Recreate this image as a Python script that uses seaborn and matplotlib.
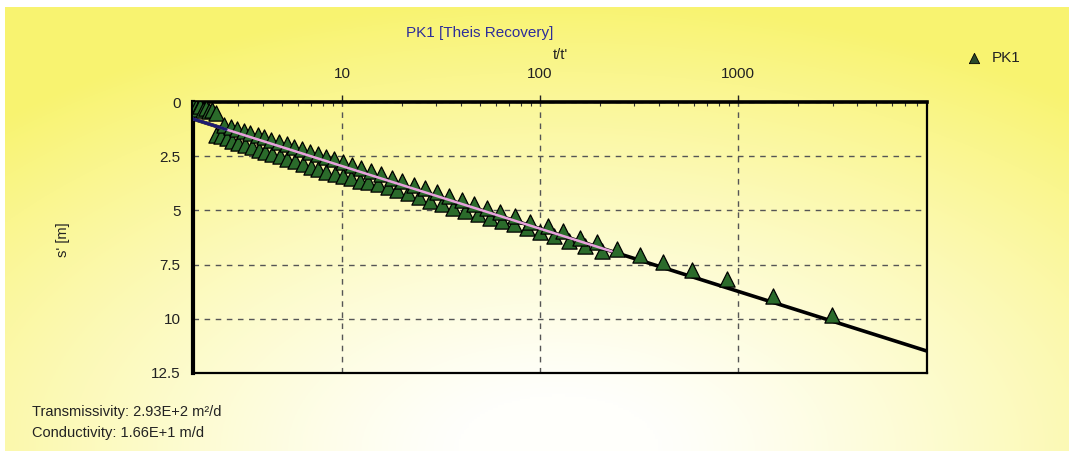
import numpy as np
import pandas as pd
import matplotlib
matplotlib.use("Agg")
import matplotlib.pyplot as plt
from matplotlib.ticker import FixedLocator, NullFormatter, MultipleLocator
import seaborn as sns

# Recovery observations for well PK1 (t/t' and residual drawdown s' in m)
t_ratio_lower = [2.30, 2.45, 2.62, 2.80, 3.00, 3.25, 3.50, 3.80, 4.10, 4.45,
                 4.85, 5.30, 5.80, 6.35, 6.95, 7.60, 8.35, 9.20, 10.1, 11.1,
                 12.3, 13.6, 15.2, 17.0, 19.0, 21.5, 24.5, 28.0, 32.0, 36.5,
                 42.0, 48.5, 56.0, 64.0, 74.0, 86.0, 100.0, 118.0, 140.0, 168.0,
                 205.0]
s_lower = [1.50, 1.56, 1.66, 1.78, 1.87, 1.98, 2.09, 2.20, 2.31, 2.42,
           2.51, 2.64, 2.73, 2.86, 2.99, 3.10, 3.21, 3.32, 3.42, 3.52,
           3.63, 3.69, 3.80, 3.93, 4.06, 4.21, 4.39, 4.57, 4.72, 4.88,
           5.02, 5.18, 5.33, 5.47, 5.64, 5.80, 5.98, 6.20, 6.42, 6.62,
           6.85]

t_ratio_upper = [1.80, 1.84, 1.88, 1.93, 1.98, 2.05, 2.12, 2.20, 2.30,
                 2.55, 2.75, 2.95, 3.20, 3.45, 3.75, 4.05, 4.40, 4.80, 5.25,
                 5.75, 6.30, 6.90, 7.55, 8.30, 9.15, 10.1, 11.2, 12.5, 14.0,
                 15.8, 17.8, 20.2, 23.0, 26.3, 30.2, 34.8, 40.2, 46.6, 54.0,
                 63.0, 74.5, 89.0, 110.0, 131.0, 159.0, 194.0, 245.0, 320.0,
                 418.0, 586.0, 879.0, 1503.0, 2985.0]
s_upper = [0.12, 0.22, 0.30, 0.18, 0.35, 0.28, 0.42, 0.38, 0.50,
           1.05, 1.15, 1.24, 1.33, 1.43, 1.54, 1.63, 1.74, 1.85, 1.96,
           2.07, 2.18, 2.30, 2.41, 2.53, 2.65, 2.78, 2.91, 3.05, 3.19,
           3.34, 3.49, 3.65, 3.81, 3.98, 4.15, 4.33, 4.51, 4.69, 4.87,
           5.06, 5.27, 5.54, 5.74, 5.97, 6.28, 6.48, 6.76, 7.08,
           7.40, 7.77, 8.18, 8.96, 9.83]

# Straight-line (Cooper-Jacob) fit: s' = a + b*log10(t/t')
fit_intercept = 0.065
fit_slope = 2.889
fit_range = [1.77, 9000.0]
early_range = [1.77, 2.6]
pink_range = [1.77, 230.0]

x_ticks = [10, 100, 1000]
y_ticks = [0, 2.5, 5, 7.5, 10, 12.5]
y_tick_labels = ["0", "2.5", "5", "7.5", "10", "12.5"]

obs = pd.DataFrame({
    "t_ratio": t_ratio_lower + t_ratio_upper,
    "s": s_lower + s_upper,
})


def fit_frame(xr, n=50):
    xs = np.logspace(np.log10(xr[0]), np.log10(xr[1]), n)
    return pd.DataFrame({"t_ratio": xs, "s": fit_intercept + fit_slope * np.log10(xs)})


sns.set_style("white")
plt.rcParams["font.family"] = ["Liberation Sans", "DejaVu Sans"]

W, H = 1069, 451
fig = plt.figure(figsize=(W / 100, H / 100), dpi=100)
fig.patch.set_facecolor("white")

# Yellow background fading to white towards the lower middle
bg = fig.add_axes([5 / W, 0, 1 - 5 / W, 1 - 7 / H])
bg.set_axis_off()
gx, gy = np.meshgrid(np.linspace(0, 1, 400), np.linspace(0, 1, 200))
r = np.sqrt(((gx - 0.52) / 0.8) ** 2 + ((gy - 0.0) / 1.05) ** 2)
w = np.clip((r - 0.12) / 0.85, 0, 1) ** 1.2
yellow = np.array([0.975, 0.955, 0.44])
white = np.array([1.0, 1.0, 0.985])
img = white[None, None, :] * (1 - w[..., None]) + yellow[None, None, :] * w[..., None]
bg.imshow(img, aspect="auto", origin="lower", extent=[0, 1, 0, 1])
bg.set_xlim(0, 1)
bg.set_ylim(0, 1)

ax = fig.add_axes([193 / W, 1 - 373 / H, (927 - 193) / W, (373 - 102) / H])
ax.patch.set_alpha(0)

sns.lineplot(data=fit_frame(fit_range), x="t_ratio", y="s", ax=ax,
             color="black", lw=2.6, zorder=3, sort=False)
sns.lineplot(data=fit_frame(pink_range), x="t_ratio", y="s", ax=ax,
             color="#e7a2dc", lw=1.8, zorder=5, sort=False)
sns.lineplot(data=fit_frame(early_range), x="t_ratio", y="s", ax=ax,
             color="#1c1c70", lw=2.2, zorder=5, sort=False)
sns.scatterplot(data=obs, x="t_ratio", y="s", ax=ax, marker="^", s=120,
                color="#2b6b2b", edgecolor="black", linewidth=0.9, zorder=4)

ax.set_xscale("log")
ax.set_xlim(fit_range)
ax.set_ylim(12.5, 0)

ax.xaxis.set_ticks_position("top")
ax.xaxis.set_label_position("top")
ax.xaxis.set_major_locator(FixedLocator(x_ticks))
ax.set_xticklabels([str(v) for v in x_ticks])
ax.xaxis.set_minor_formatter(NullFormatter())
ax.set_yticks(y_ticks)
ax.set_yticklabels(y_tick_labels)
ax.yaxis.set_minor_locator(MultipleLocator(0.5))

ax.tick_params(axis="both", which="major", labelsize=11, colors="#222222",
               length=5, width=1, direction="out", pad=4)
ax.tick_params(axis="x", which="major", pad=10)
ax.tick_params(axis="both", which="minor", length=3, width=0.8, direction="in",
               color="#333333")

ax.grid(True, which="major", color="#555555", linestyle=(0, (4, 4)), lw=1.0)
for side, lw in (("left", 3.0), ("top", 2.6), ("right", 1.6), ("bottom", 1.6)):
    ax.spines[side].set_visible(True)
    ax.spines[side].set_color("black")
    ax.spines[side].set_linewidth(lw)

ax.set_xlabel("t/t'", fontsize=10.5, color="#222222", labelpad=6)
ax.set_ylabel("")
fig.text(63 / W, 1 - 240 / H, "s' [m]", rotation=90, ha="center", va="center",
         fontsize=10.5, color="#222222")

fig.text(480 / W, 1 - 33 / H, "PK1 [Theis Recovery]", ha="center", va="center",
         fontsize=11, color="#2d2d9a")

# Legend entry
leg_ax = fig.add_axes([960 / W, 1 - 70 / H, 100 / W, 24 / H])
leg_ax.set_axis_off()
leg_ax.set_xlim(0, 1)
leg_ax.set_ylim(0, 1)
sns.scatterplot(x=[0.14], y=[0.5], ax=leg_ax, marker="^", s=55,
                color="#2b4a2b", edgecolor="black", linewidth=0.6)
leg_ax.text(0.32, 0.5, "PK1", ha="left", va="center", fontsize=11, color="#222222")

fig.text(32 / W, 1 - 412 / H, "Transmissivity: 2.93E+2 m\u00b2/d", ha="left",
         va="center", fontsize=10.5, color="#222222")
fig.text(32 / W, 1 - 433 / H, "Conductivity: 1.66E+1 m/d", ha="left",
         va="center", fontsize=10.5, color="#222222")

fig.savefig("out.png", dpi=100)
